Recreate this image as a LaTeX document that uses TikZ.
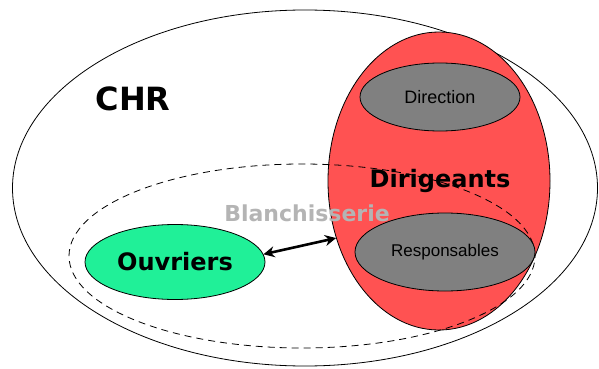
\documentclass[tikz,border=0pt]{standalone}
\usepackage{fontspec}
\setmainfont{Liberation Sans}
\newfontfamily\heavyfont{DejaVu Sans}
\usetikzlibrary{arrows.meta,positioning,shapes.geometric}
\definecolor{dirred}{RGB}{255,82,82}
\definecolor{persgray}{RGB}{128,128,128}
\definecolor{ouvgreen}{RGB}{32,240,152}
\definecolor{blanchgray}{RGB}{180,180,180}

\begin{document}
\begin{tikzpicture}[x=1pt,y=-1pt,
    set/.style={ellipse,draw,line width=0.8pt,inner sep=0pt},
    heavy/.style={font=\heavyfont\bfseries\fontsize{#1}{#1}\selectfont}]
    \useasboundingbox (0,0) rectangle (599,369);

    % CHR
    \node[set,minimum width=585pt,minimum height=356pt] (chr) at (305,188) {};
    \node[heavy=32] (chrlab) at (133,99) {CHR};

    % Dirigeants
    \node[set,fill=dirred,minimum width=222pt,minimum height=298pt] (dir) at (439,181) {};
    \node[heavy=24] (dirlab) at (440,181) {Dirigeants};

    % Blanchisserie
    \node[set,dashed,dash pattern=on 7pt off 5pt,minimum width=466pt,minimum height=184pt] (blanch) at (302,256) {};
    \node[heavy=22,text=blanchgray] (blanchlab) at (307,213) {Blanchisserie};

    % Direction, Responsables
    \node[set,fill=persgray,minimum width=160pt,minimum height=68pt,font=\fontsize{18}{18}\selectfont] (direc) at (440,97) {Direction};
    \node[set,fill=persgray,minimum width=180pt,minimum height=78pt,font=\fontsize{17}{17}\selectfont] (resp) at (445,252) {Responsables};

    % Ouvriers
    \node[set,fill=ouvgreen,minimum width=180pt,minimum height=75pt,heavy=24] (ouv) at (175,262) {Ouvriers};

    % Arrow
    \draw[{Stealth[length=11pt,width=11pt]}-{Stealth[length=11pt,width=11pt]},line width=2.6pt] (ouv.5) -- (dir.209);
\end{tikzpicture}
\end{document}
